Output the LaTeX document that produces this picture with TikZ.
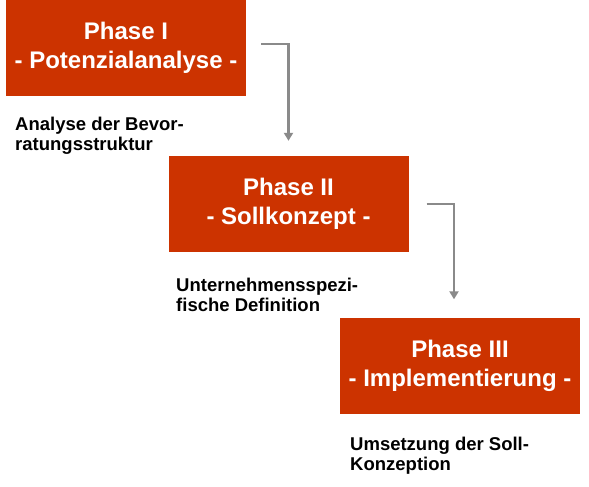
\documentclass[tikz,border=0pt]{standalone}
\usepackage{fontspec}
\setmainfont{Liberation Sans}
\usetikzlibrary{arrows.meta}
\definecolor{phase}{HTML}{CC3300}
\definecolor{arrgray}{HTML}{8A8A8A}
\begin{document}
\begin{tikzpicture}[x=1pt,y=-1pt,
  phasebox/.style={fill=phase, text=white, font=\fontsize{24}{29}\selectfont\bfseries, align=center, minimum width=240pt, minimum height=96pt, inner sep=0pt},
  desc/.style={anchor=north west, inner sep=0pt, align=left, font=\fontsize{18.5}{20}\selectfont\bfseries},
  arr/.style={draw=arrgray, line width=2.8pt, -{Triangle[width=9pt,length=8pt]}}]
\useasboundingbox[fill=white] (0,0) rectangle (589,487);
\node[phasebox] (b1) at (126,48) {Phase I\\- Potenzialanalyse -};
\node[phasebox] (b2) at (288.5,204) {Phase II\\- Sollkonzept -};
\node[phasebox] (b3) at (460,365.5) {Phase III\\- Implementierung -};
\node[desc] (d1) at (15,117) {Analyse der Bevor-\\ratungsstruktur};
\node[desc] (d2) at (176,278) {Unternehmensspezi-\\fische Definition};
\node[desc] (d3) at (350,437) {Umsetzung der Soll-\\Konzeption};
\draw[arr] ([xshift=15pt,yshift=4pt]b1.east) -| ([yshift=15pt]b2.north);
\draw[arr] ([xshift=18pt]b2.east) -| ([xshift=-6pt,yshift=18pt]b3.north);
\end{tikzpicture}
\end{document}
